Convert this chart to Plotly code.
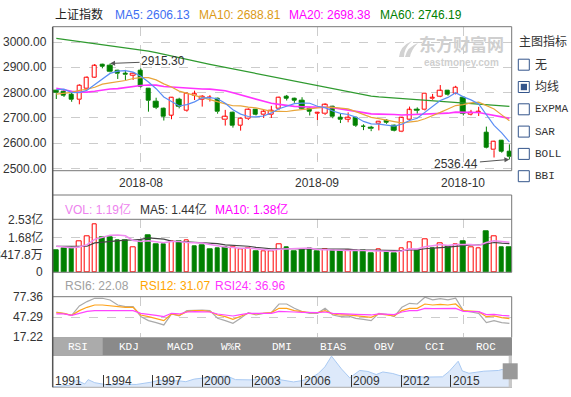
import plotly.graph_objects as go

W, H = 571, 397
def PX(x): return x / W
def PY(y): return 1 - y / H

# ---------------- data ----------------
dates = ["2018-07-17","2018-07-18","2018-07-19","2018-07-20","2018-07-23","2018-07-24","2018-07-25","2018-07-26","2018-07-27","2018-07-30",
         "2018-07-31","2018-08-01","2018-08-02","2018-08-03","2018-08-06","2018-08-07","2018-08-08","2018-08-09","2018-08-10","2018-08-13",
         "2018-08-14","2018-08-15","2018-08-16","2018-08-17","2018-08-20","2018-08-21","2018-08-22","2018-08-23","2018-08-24","2018-08-27",
         "2018-08-28","2018-08-29","2018-08-30","2018-08-31","2018-09-03","2018-09-04","2018-09-05","2018-09-06","2018-09-07","2018-09-10",
         "2018-09-11","2018-09-12","2018-09-13","2018-09-14","2018-09-17","2018-09-18","2018-09-19","2018-09-20","2018-09-21","2018-09-25",
         "2018-09-26","2018-09-27","2018-09-28","2018-10-08","2018-10-09","2018-10-10","2018-10-11","2018-10-12","2018-10-15","2018-10-16"]
opens = [2808,2805,2790,2772,2815,2860,2910,2906,2885,2874,2868,2886,2815,2765,2735,2711,2771,2729,2787,2773,
         2779,2778,2692,2722,2670,2696,2731,2712,2712,2735,2785,2775,2770,2735,2717,2716,2744,2700,2695,2701,
         2667,2660,2677,2689,2671,2645,2695,2731,2731,2775,2785,2807,2795,2780,2714,2722,2643,2573,2609,2567]
highs = [2812,2812,2800,2833,2864,2913,2914,2915.30,2890,2890,2880,2896,2817,2780,2741,2781,2780,2801,2808,2790,
         2790,2780,2732,2725,2702,2738,2734,2732,2748,2784,2791,2780,2782,2741,2723,2758,2748,2716,2722,2704,
         2675,2669,2688,2695,2674,2704,2745,2742,2798,2795,2830,2808,2827,2784,2732,2744,2666,2610,2613,2596]
lows = [2775,2783,2764,2754,2812,2858,2896,2880,2854,2850,2850,2820,2725,2735,2690,2695,2738,2725,2771,2745,
        2765,2717,2670,2662,2650,2692,2710,2700,2700,2731,2769,2760,2732,2710,2692,2712,2699,2680,2683,2665,
        2652,2648,2651,2677,2647,2644,2694,2717,2729,2772,2782,2788,2793,2710,2710,2708,2580,2544,2563,2536.44]
closes = [2798.13,2787.26,2772.55,2829.27,2859.54,2905.56,2903.65,2882.23,2873.59,2869.05,
          2876.40,2824.53,2768.02,2740.44,2705.16,2779.37,2744.07,2794.38,2795.31,2785.87,
          2780.96,2723.26,2705.50,2668.97,2698.47,2733.03,2714.61,2724.62,2729.43,2780.90,
          2777.98,2769.30,2737.74,2725.25,2720.73,2750.58,2704.34,2691.59,2702.30,2669.48,
          2664.80,2656.11,2686.58,2681.64,2651.79,2699.95,2730.85,2729.24,2797.49,2781.14,
          2806.81,2791.77,2821.35,2716.51,2721.01,2725.84,2583.46,2606.91,2568.10,2546.33]
ma5 = [2811.76,2813.65,2800.63,2800.25,2809.35,2830.84,2854.11,2876.05,2884.91,2886.82,
       2880.98,2865.16,2842.32,2815.69,2782.91,2763.50,2747.41,2752.68,2763.66,2779.80,
       2780.12,2775.96,2758.18,2732.91,2715.43,2705.85,2704.12,2707.94,2720.03,2736.52,
       2745.51,2756.45,2759.07,2758.23,2746.20,2740.72,2727.73,2718.50,2713.91,2703.66,
       2686.50,2676.86,2675.85,2671.72,2668.18,2675.21,2690.16,2698.69,2721.86,2747.73,
       2769.11,2781.29,2799.71,2783.52,2771.49,2755.30,2713.63,2670.75,2641.06,2606.13]
ma10 = [2794.18,2796.99,2800.86,2809.06,2813.50,2821.30,2833.88,2838.34,2842.58,2848.08,
        2855.91,2859.64,2859.18,2850.30,2834.86,2822.24,2806.29,2797.50,2789.67,2781.36,
        2771.81,2761.68,2755.43,2748.29,2747.62,2742.98,2740.04,2733.06,2726.47,2725.98,
        2725.68,2730.28,2733.51,2739.13,2741.36,2743.11,2742.09,2738.78,2736.07,2724.93,
        2713.61,2702.29,2697.18,2692.82,2685.92,2680.86,2683.51,2687.27,2696.79,2707.96,
        2722.16,2735.73,2749.20,2752.69,2759.61,2762.20,2747.46,2735.23,2712.29,2688.81]
ma20 = [2816.84,2810.42,2805.26,2802.23,2802.24,2805.29,2809.82,2814.58,2815.89,2820.57,
        2825.04,2828.31,2830.02,2829.68,2824.18,2821.77,2820.09,2817.92,2816.13,2814.72,
        2813.86,2810.66,2807.31,2799.29,2791.24,2782.61,2773.16,2765.28,2758.07,2753.67,
        2748.74,2745.98,2744.47,2743.71,2744.49,2743.05,2741.06,2735.92,2731.27,2725.45,
        2719.64,2716.29,2715.34,2715.97,2713.64,2711.99,2712.80,2713.03,2716.43,2716.44,
        2717.89,2719.01,2723.19,2722.75,2722.77,2721.53,2715.49,2711.25,2704.54,2698.38]
ma60 = [3014,3010,3006,3002,2998,2994,2990,2986,2982,2978,2974,2970,2964,2958,2951,2945,2938,2932,2925,2919,
        2912,2906,2900,2893,2887,2880,2874,2868,2861,2855,2849,2843,2837,2831,2825,2819,2813,2807,2801,2795,
        2789,2786,2783,2781,2779,2777,2775,2773,2771,2769,2767,2765,2763,2761,2759,2757,2754,2752,2749,2746.19]
# volume in 亿
volume = [1.07,1.17,1.17,1.49,1.73,2.32,1.68,1.68,1.52,1.55,1.20,1.47,1.79,1.33,1.33,1.47,1.47,1.54,1.25,1.31,
          1.12,1.17,1.18,1.18,1.12,1.15,0.99,1.02,1.02,1.36,1.22,1.02,1.10,1.14,1.02,1.10,1.04,1.02,1.07,1.06,
          1.04,0.93,1.09,1.02,0.93,1.15,1.44,1.07,1.58,1.15,1.39,1.26,1.34,1.50,1.20,1.15,1.98,1.73,1.22,1.19]
vol_up = [0,0,0,1,1,1,0,0,0,0,1,0,0,0,0,1,0,1,0,0,
          0,0,0,1,1,1,0,1,1,1,0,0,0,0,0,1,0,0,1,0,
          0,0,1,0,0,1,1,0,1,0,1,0,1,0,1,1,0,1,0,0]
vol_ma5 = [1.25,1.22,1.18,1.22,1.33,1.58,1.68,1.78,1.79,1.75,1.53,1.48,1.51,1.47,1.42,1.48,1.48,1.43,1.41,1.41,
           1.34,1.28,1.21,1.19,1.15,1.16,1.12,1.09,1.06,1.11,1.12,1.13,1.14,1.17,1.10,1.08,1.08,1.06,1.05,1.06,
           1.05,1.02,1.04,1.03,1.00,1.02,1.13,1.12,1.23,1.28,1.33,1.29,1.34,1.33,1.34,1.29,1.43,1.51,1.46,1.44]
vol_ma10 = [1.25,1.25,1.24,1.24,1.25,1.41,1.45,1.48,1.51,1.54,1.55,1.58,1.65,1.63,1.59,1.50,1.48,1.47,1.44,1.42,
            1.41,1.38,1.32,1.30,1.28,1.25,1.20,1.15,1.13,1.13,1.14,1.13,1.12,1.12,1.11,1.10,1.11,1.10,1.11,1.08,
            1.07,1.05,1.05,1.04,1.03,1.04,1.08,1.08,1.13,1.14,1.18,1.21,1.23,1.28,1.31,1.31,1.36,1.43,1.40,1.38]
rsi6 = [55.3,53.3,50.3,64.3,70.9,75.9,75.9,73.4,65.8,63.3,63.3,48.3,42.3,39.3,35.8,52.3,49.3,57.3,58.3,58.3,
        57.3,45.8,42.3,38.3,45.8,54.3,50.8,53.3,54.3,67.3,67.3,60.8,55.8,53.3,53.3,60.8,50.8,48.3,49.3,45.8,
        44.3,42.3,53.3,51.8,48.3,62.3,68.3,67.3,77.4,73.4,75.4,73.4,75.9,57.3,55.3,53.3,39.3,42.3,39.3,38.3]
rsi12 = [54.3,53.3,50.3,57.3,62.3,65.8,65.8,64.3,63.3,62.3,62.3,50.8,48.3,45.8,42.3,52.3,50.3,55.8,57.3,57.3,
         55.8,50.8,48.3,44.3,48.3,53.3,52.3,53.3,54.3,60.8,60.8,57.3,55.3,54.3,54.3,57.3,52.3,50.8,50.8,49.3,
         48.3,47.3,52.3,51.3,49.3,57.3,60.8,60.8,67.3,65.8,66.8,65.8,67.3,57.3,56.3,55.8,48.3,49.3,46.8,45.3]
rsi24 = [52.3,52.3,50.3,53.3,56.3,57.3,57.3,57.3,57.3,57.3,57.3,53.3,52.3,50.3,48.3,53.3,52.3,55.3,55.8,55.8,
         55.3,52.3,50.8,49.3,51.3,53.3,53.3,53.3,53.3,56.3,56.3,55.3,54.8,54.3,54.3,55.3,53.3,52.8,52.8,51.8,
         51.3,50.8,52.3,52.3,51.3,55.3,57.3,57.3,60.8,60.3,60.8,60.3,60.8,56.3,55.8,55.8,51.3,51.8,50.3,49.3]
price_ticks = [3000, 2900, 2800, 2700, 2600, 2500]
vol_ticks = [2.5253, 1.6836, 0.8418, 0]
vol_tick_text = ["2.53亿", "1.68亿", "8417.8万", "0"]
rsi_ticks = [77.36, 47.29, 17.22]
month_labels = ["2018-08", "2018-09", "2018-10"]
tabs = ["RSI", "KDJ", "MACD", "W%R", "DMI", "BIAS", "OBV", "CCI", "ROC"]
indicators = ["无", "均线", "EXPMA", "SAR", "BOLL", "BBI"]
hist_year = [1990.96,1991.5,1992.0,1992.4,1992.9,1993.1,1993.5,1994.5,1994.7,1995.5,1996.0,1996.9,1997.4,1998.0,1998.5,
             1999.0,1999.5,2000.5,2001.5,2002.0,2003.0,2004.3,2005.5,2006.0,2006.5,2007.0,2007.4,2007.8,2008.0,2008.4,
             2008.9,2009.5,2010.0,2010.5,2010.9,2011.5,2012.0,2012.9,2013.5,2014.5,2014.9,2015.45,2015.7,2016.1,2016.5,
             2017.0,2017.9,2018.1,2018.5,2018.7]
hist_val = [100,250,400,1400,650,1500,900,350,700,600,550,1000,1400,1200,1300,1100,1600,2000,2200,1500,1450,1700,1050,1300,1700,
            2700,4000,6100,5300,3600,1850,3300,3100,2500,3000,2700,2200,2000,2000,2050,3100,5100,3200,2750,2900,3150,3300,3500,2850,2600]
hist_ticks = [1991, 1994, 1997, 2000, 2003, 2006, 2009, 2012, 2015]

idx = list(range(len(closes)))
month_idx = [next(i for i, d in enumerate(dates) if d.startswith(m)) for m in month_labels]

RED, GREEN = "#ff0000", "#008000"
FONT = "Liberation Sans, Arial, Noto Sans CJK SC"
MONO = "Liberation Mono, DejaVu Sans Mono"
XL, XR = 52.7, 511.7

fig = go.Figure()

# ---------- candles: bodies ----------
up = [c >= o for o, c in zip(opens, closes)]
for flag, fill, line in [(True, "white", RED), (False, GREEN, GREEN)]:
    xs = [i for i in idx if up[i] == flag]
    fig.add_trace(go.Bar(x=xs, base=[min(opens[i], closes[i]) for i in xs],
                         y=[max(abs(closes[i] - opens[i]), 0.6) for i in xs],
                         width=0.56, marker=dict(color=fill, line=dict(color=line, width=1)),
                         xaxis="x", yaxis="y", hoverinfo="skip", showlegend=False))
# volume bars
for flag, fill, line in [(1, "white", RED), (0, GREEN, GREEN)]:
    xs = [i for i in idx if vol_up[i] == flag]
    fig.add_trace(go.Bar(x=xs, y=[volume[i] for i in xs], width=0.6,
                         marker=dict(color=fill, line=dict(color=line, width=1)),
                         xaxis="x2", yaxis="y2", hoverinfo="skip", showlegend=False))
# wicks
for flag, col in [(True, RED), (False, GREEN)]:
    wx, wy = [], []
    for i in idx:
        if up[i] != flag:
            continue
        top, bot = max(opens[i], closes[i]), min(opens[i], closes[i])
        wx += [i, i, None, i, i, None]
        wy += [highs[i], top, None, bot, lows[i], None]
    fig.add_trace(go.Scatter(x=wx, y=wy, mode="lines", line=dict(color=col, width=1),
                             xaxis="x", yaxis="y", hoverinfo="skip", showlegend=False))
# moving averages
for arr, col, w in [(ma60, "#2f9a2f", 1.2), (ma20, "#ff33ff", 1.6), (ma10, "#e8a53a", 1.2), (ma5, "#5b8ef5", 1.2)]:
    fig.add_trace(go.Scatter(x=idx, y=arr, mode="lines", line=dict(color=col, width=w),
                             xaxis="x", yaxis="y", hoverinfo="skip", showlegend=False))
fig.add_trace(go.Scatter(x=idx, y=vol_ma10, mode="lines", line=dict(color="#444444", width=1.2),
                         xaxis="x2", yaxis="y2", hoverinfo="skip", showlegend=False))
fig.add_trace(go.Scatter(x=idx, y=vol_ma5, mode="lines", line=dict(color="#f08cf0", width=1.5),
                         xaxis="x2", yaxis="y2", hoverinfo="skip", showlegend=False))
for arr, col in [(rsi6, "#aaaaaa"), (rsi12, "#ffa31a"), (rsi24, "#ff44ff")]:
    fig.add_trace(go.Scatter(x=idx, y=arr, mode="lines", line=dict(color=col, width=1.2),
                             xaxis="x3", yaxis="y3", hoverinfo="skip", showlegend=False))
# history minimap
fig.add_trace(go.Scatter(x=hist_year, y=hist_val, mode="lines", fill="tozeroy",
                         fillcolor="#dde9fa", line=dict(color="#a9c9f2", width=1),
                         xaxis="x4", yaxis="y4", hoverinfo="skip", showlegend=False))

# ---------- axes ----------
xr = [-0.47, 59.3]
grid = dict(showgrid=True, gridcolor="#cccccc", griddash="dash", gridwidth=1)
def xax():
    return dict(domain=[PX(XL), PX(XR)], range=xr, tickvals=month_idx, showticklabels=False,
                zeroline=False, showline=False, ticks="", fixedrange=True, **grid)

layout = dict(
    width=W, height=H, margin=dict(l=0, r=0, t=0, b=0), paper_bgcolor="white", plot_bgcolor="white",
    showlegend=False, bargap=0, barmode="overlay",
    xaxis=dict(anchor="y", **xax()),
    yaxis=dict(anchor="x", domain=[PY(170.7), PY(26.7)], range=[2491.9, 3060.4], tickvals=price_ticks,
               showticklabels=False, zeroline=False, ticks="", **grid),
    xaxis2=dict(anchor="y2", **xax()),
    yaxis2=dict(anchor="x2", domain=[PY(272.3), PY(219.3)], range=[0, 2.5444], tickvals=[1.6836],
                showticklabels=False, zeroline=False, ticks="", **grid),
    xaxis3=dict(anchor="y3", **xax()),
    yaxis3=dict(anchor="x3", domain=[PY(337.3), PY(296.7)], range=[17.22, 78.27], tickvals=[47.29],
                showticklabels=False, zeroline=False, ticks="", **grid),
    xaxis4=dict(anchor="y4", domain=[PX(XL), PX(512)], range=[1990.96, 2018.70], tickvals=hist_ticks,
                showticklabels=False, showgrid=False, zeroline=False, showline=False,
                ticks="inside", ticklen=12, tickcolor="#333333", tickwidth=1),
    yaxis4=dict(anchor="x4", domain=[PY(387.3), PY(350)], range=[0, 7300], visible=False),
)
fig.update_layout(**layout)

# ---------- shapes ----------
shapes = []
def line(x0, y0, x1, y1, col="#777777", w=1):
    shapes.append(dict(type="line", xref="paper", yref="paper", x0=PX(x0), y0=PY(y0), x1=PX(x1), y1=PY(y1),
                       line=dict(color=col, width=w)))
def rect(x0, y0, x1, y1, fill, col=None, w=0, layer="above"):
    shapes.append(dict(type="rect", xref="paper", yref="paper", x0=PX(x0), y0=PY(y0), x1=PX(x1), y1=PY(y1),
                       fillcolor=fill, line=dict(color=col or fill, width=w), layer=layer))
def path(pts, fill):
    # pts: list of (cmd, [(x,y),...]) in pixel units -> paper path
    s = ""
    for cmd, ps in pts:
        s += cmd + " " + " ".join(f"{PX(x):.5f},{PY(y):.5f}" for x, y in ps) + " "
    shapes.append(dict(type="path", xref="paper", yref="paper", path=s + "Z", fillcolor=fill,
                       line=dict(width=0), layer="below"))
# main box
line(XL, 26.7, XR, 26.7); line(XR, 26.7, XR, 170.7); line(XL, 170.7, XR, 170.7)
# volume box
line(XL, 195, XR, 195); line(XR, 195, XR, 272.3); line(XL, 219.3, XR, 219.3); line(XL, 272.3, XR, 272.3)
# rsi box
line(XL, 296.7, XR, 296.7); line(XR, 296.7, XR, 337.3)
# tab bar
rect(XL, 337.3, 512, 355.7, "#8a8a8a")
rect(XL, 337.3, 102.7, 355.7, "#ababab")
# minimap baseline + window + slider
line(XL, 387.3, 512, 387.3, "#aaaaaa")
rect(508.7, 356, 512, 387.3, "#c8c8c8")
rect(502.7, 363.3, 517.7, 379.3, "#999999")
# long left axis
line(XL, 26.7, XL, 387.3, "#555555", 1.5)
# checkboxes
for k, name in enumerate(indicators):
    cy = 64.7 + 22.3 * k
    rect(518.3, cy - 5.5, 529.3, cy + 5.5, "white", "#34558b", 1)
    if k == 1:
        rect(520.8, cy - 3.2, 527, cy + 3.2, "#34558b")
# watermark logo (grey swooshes)
path([("M", [(399, 57)]), ("Q", [(400, 46), (412, 41)]), ("Q", [(404, 48), (404, 57)])], "#d2d2d2")
path([("M", [(405, 57)]), ("Q", [(407, 47), (418, 43)]), ("Q", [(411, 50), (410, 57)])], "#d2d2d2")
fig.update_layout(shapes=shapes)

# ---------- annotations ----------
ann = []
def text(x, y, s, col="#333333", size=12, xanchor="left", font=FONT, xref="paper", yref="paper", **kw):
    ann.append(dict(x=x, y=y, xref=xref, yref=yref, text=s, showarrow=False, xanchor=xanchor, yanchor="middle",
                    font=dict(family=font, size=size, color=col), **kw))
# title row
text(PX(53), PY(15), "上证指数", "#222222")
text(PX(112.5), PY(15), f"MA5: {ma5[-1]:.2f}", "#3d6ef2")
text(PX(196.5), PY(15), f"MA10: {ma10[-1]:.2f}", "#dc9a14")
text(PX(287), PY(15), f"MA20: {ma20[-1]:.2f}", "#ff00ff")
text(PX(378), PY(15), f"MA60: {ma60[-1]:.2f}", "#008000")
# y tick labels
for v in price_ticks:
    text(PX(48.6), v, f"{v:.2f}", "#333333", xanchor="right", yref="y")
for v, s in zip(vol_ticks, vol_tick_text):
    text(PX(44.6), v, s, "#333333", xanchor="right", yref="y2")
for v in rsi_ticks:
    text(PX(44.6), v, f"{v:.2f}", "#333333", xanchor="right", yref="y3")
# date labels
for i, s in zip(month_idx, month_labels):
    text(i, PY(182.5), s, "#333333", xanchor="center", xref="x")
# volume legend
text(PX(63), PY(209), f"VOL: {volume[-1]:.2f}亿", "#ee82ee")
text(PX(138), PY(209), f"MA5: {vol_ma5[-1]:.2f}亿", "#333333")
text(PX(213), PY(209), f"MA10: {vol_ma10[-1]:.2f}亿", "#ff00ff")
# rsi legend
text(PX(63), PY(286), "RSI6: 22.08", "#a0a0a0")
text(PX(138), PY(286), "RSI12: 31.07", "#ffa500")
text(PX(213), PY(286), "RSI24: 36.96", "#ff33ff")
# tabs
tw = (512 - XL) / len(tabs)
for k, s in enumerate(tabs):
    text(PX(XL + tw * (k + 0.5)), PY(346.7), s, "white", size=11, xanchor="center", font=MONO)
# minimap year labels
for y in hist_ticks:
    text(y, PY(380.7), str(y), "#333333", xref="x4")
# right panel
text(PX(517), PY(42), "主图指标", "#333333")
for k, name in enumerate(indicators):
    cy = 64.7 + 22.3 * k
    f = FONT if k < 2 else MONO
    text(PX(532.5), PY(cy), name, "#333333", size=12 if k < 2 else 11, font=f)
# watermark
text(PX(461.5), PY(44.8), "<b>东方财富网</b>", "#cfcfcf", size=17, xanchor="center")
text(PX(461.5), PY(63), "<b>eastmoney.com</b>", "#cfcfcf", size=10, xanchor="center")
# high / low markers
hi = max(range(len(highs)), key=lambda i: highs[i])
lo = min(range(len(lows)), key=lambda i: lows[i])
ann.append(dict(x=hi, y=highs[hi], xref="x", yref="y", text=f"{highs[hi]:.2f}", showarrow=True,
                ax=53, ay=-2, arrowhead=2, arrowsize=1, arrowwidth=1, arrowcolor="#555555",
                font=dict(family=FONT, size=12, color="#333333")))
ann.append(dict(x=lo, y=lows[lo], xref="x", yref="y", text=f"{lows[lo]:.2f}", showarrow=True,
                ax=-53, ay=4.5, arrowhead=2, arrowsize=1, arrowwidth=1, arrowcolor="#555555",
                font=dict(family=FONT, size=12, color="#333333")))
fig.update_layout(annotations=ann)

fig.write_html("out.html")
